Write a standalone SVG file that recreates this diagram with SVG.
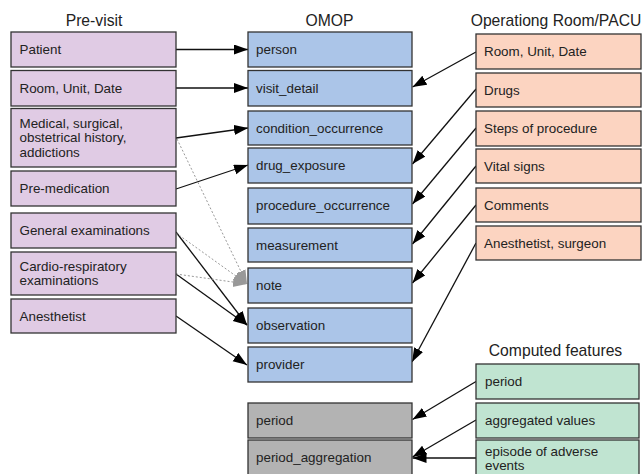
<svg xmlns="http://www.w3.org/2000/svg" width="644" height="474" viewBox="0 0 644 474">
<defs>
<style>
.box{stroke:#333;stroke-width:1.3}
.pre{fill:#e0cbe4}
.omop{fill:#abc5e8}
.or{fill:#fcd4c1}
.cf{fill:#c0e4d1}
.gr{fill:#b3b3b3}
text{font-family:"Liberation Sans",Arial,sans-serif;fill:#222}
.lbl{font-size:13.4px}
.ttl{font-size:15.7px;text-anchor:middle}
.c{stroke:#111;stroke-width:1.3;fill:none;marker-end:url(#ah)}
.d{stroke:#999;stroke-width:1;stroke-dasharray:2 2;fill:none;marker-end:url(#ag)}
</style>
<marker id="ah" markerUnits="userSpaceOnUse" markerWidth="15" markerHeight="11" refX="14" refY="5" orient="auto">
<path d="M0,0 L14,5 L0,10 z" fill="#000"/>
</marker>
<marker id="ag" markerUnits="userSpaceOnUse" markerWidth="15" markerHeight="11" refX="14" refY="5" orient="auto">
<path d="M0,0 L14,5 L0,10 z" fill="#999"/>
</marker>
</defs>
<rect width="644" height="474" fill="#fff"/>

<g id="titles">
<text class="ttl" x="94" y="26">Pre-visit</text>
<text class="ttl" x="329.5" y="25.5">OMOP</text>
<text class="ttl" x="556" y="26">Operationg Room/PACU</text>
<text class="ttl" x="555.5" y="356">Computed features</text>
</g>

<g id="connectors">
<line class="c" x1="176" y1="49.5" x2="248" y2="49.5"/>
<line class="c" x1="176" y1="88" x2="248" y2="88"/>
<line class="c" x1="176" y1="138" x2="248" y2="128"/>
<line class="c" x1="176" y1="189" x2="248" y2="165"/>
<line class="c" x1="176" y1="232" x2="247" y2="325"/>
<line class="c" x1="176" y1="274" x2="247" y2="325"/>
<line class="c" x1="176" y1="316" x2="247" y2="365"/>
<line class="d" x1="177" y1="139" x2="247" y2="284"/>
<line class="d" x1="176" y1="233" x2="247" y2="284"/>
<line class="d" x1="176" y1="274" x2="247" y2="284"/>
<line class="c" x1="476" y1="52" x2="412.5" y2="87"/>
<line class="c" x1="476" y1="89" x2="412.5" y2="164"/>
<line class="c" x1="476" y1="128" x2="412.5" y2="204"/>
<line class="c" x1="476" y1="166" x2="412.5" y2="244"/>
<line class="c" x1="476" y1="205" x2="412.5" y2="283"/>
<line class="c" x1="476" y1="243" x2="412" y2="362"/>
<line class="c" x1="476" y1="381.5" x2="412.5" y2="419.5"/>
<line class="c" x1="476" y1="420" x2="412.5" y2="457"/>
<line class="c" x1="476" y1="458" x2="412.5" y2="458"/>
</g>

<g id="pre-patient"><rect class="box pre" x="11" y="32" width="165" height="35"/><text class="lbl" x="19.5" y="54">Patient</text></g>
<g id="pre-room"><rect class="box pre" x="11" y="70.5" width="165" height="35.5"/><text class="lbl" x="19.5" y="92.5">Room, Unit, Date</text></g>
<g id="pre-medical"><rect class="box pre" x="11" y="108.5" width="165" height="58.5"/><text class="lbl" x="19.5" y="127.5">Medical, surgical,</text><text class="lbl" x="19.5" y="142">obstetrical history,</text><text class="lbl" x="19.5" y="156.5">addictions</text></g>
<g id="pre-premed"><rect class="box pre" x="11" y="171" width="165" height="35"/><text class="lbl" x="19.5" y="192.5">Pre-medication</text></g>
<g id="pre-general"><rect class="box pre" x="11" y="213" width="165" height="35"/><text class="lbl" x="19.5" y="235">General examinations</text></g>
<g id="pre-cardio"><rect class="box pre" x="11" y="252" width="165" height="43"/><text class="lbl" x="19.5" y="270.5">Cardio-respiratory</text><text class="lbl" x="19.5" y="285">examinations</text></g>
<g id="pre-anesthetist"><rect class="box pre" x="11" y="299" width="165" height="34"/><text class="lbl" x="19.5" y="321">Anesthetist</text></g>

<g id="omop-person"><rect class="box omop" x="248" y="32" width="164" height="35"/><text class="lbl" x="256" y="54">person</text></g>
<g id="omop-visit_detail"><rect class="box omop" x="248" y="70.5" width="164" height="35.5"/><text class="lbl" x="256" y="92.5">visit_detail</text></g>
<g id="omop-condition_occurrence"><rect class="box omop" x="248" y="111" width="164" height="34"/><text class="lbl" x="256" y="133">condition_occurrence</text></g>
<g id="omop-drug_exposure"><rect class="box omop" x="248" y="148" width="164" height="35"/><text class="lbl" x="256" y="170">drug_exposure</text></g>
<g id="omop-procedure_occurrence"><rect class="box omop" x="248" y="188" width="164" height="36"/><text class="lbl" x="256" y="210">procedure_occurrence</text></g>
<g id="omop-measurement"><rect class="box omop" x="248" y="228" width="164" height="34"/><text class="lbl" x="256" y="250">measurement</text></g>
<g id="omop-note"><rect class="box omop" x="248" y="268" width="164" height="35"/><text class="lbl" x="256" y="290">note</text></g>
<g id="omop-observation"><rect class="box omop" x="248" y="308" width="164" height="35"/><text class="lbl" x="256" y="330">observation</text></g>
<g id="omop-provider"><rect class="box omop" x="248" y="347" width="164" height="35"/><text class="lbl" x="256" y="369">provider</text></g>
<g id="omop-period"><rect class="box gr" x="248" y="403" width="164" height="35"/><text class="lbl" x="256" y="425">period</text></g>
<g id="omop-period_aggregation"><rect class="box gr" x="248" y="440" width="164" height="40"/><text class="lbl" x="256" y="462">period_aggregation</text></g>

<g id="or-room"><rect class="box or" x="476" y="34" width="165" height="35"/><text class="lbl" x="484" y="56">Room, Unit, Date</text></g>
<g id="or-drugs"><rect class="box or" x="476" y="73" width="165" height="34"/><text class="lbl" x="484" y="95">Drugs</text></g>
<g id="or-steps"><rect class="box or" x="476" y="111" width="165" height="35"/><text class="lbl" x="484" y="133">Steps of procedure</text></g>
<g id="or-vital"><rect class="box or" x="476" y="149" width="165" height="34"/><text class="lbl" x="484" y="171">Vital signs</text></g>
<g id="or-comments"><rect class="box or" x="476" y="188" width="165" height="34"/><text class="lbl" x="484" y="210">Comments</text></g>
<g id="or-anesthetist"><rect class="box or" x="476" y="226" width="165" height="34"/><text class="lbl" x="484" y="248">Anesthetist, surgeon</text></g>

<g id="cf-period"><rect class="box cf" x="476" y="364" width="163" height="35"/><text class="lbl" x="485" y="386">period</text></g>
<g id="cf-aggregated"><rect class="box cf" x="476" y="403" width="163" height="35"/><text class="lbl" x="485" y="425">aggregated values</text></g>
<g id="cf-episode"><rect class="box cf" x="476" y="440" width="163" height="40"/><text class="lbl" x="485" y="456">episode of adverse</text><text class="lbl" x="485" y="469.5">events</text></g>
</svg>
